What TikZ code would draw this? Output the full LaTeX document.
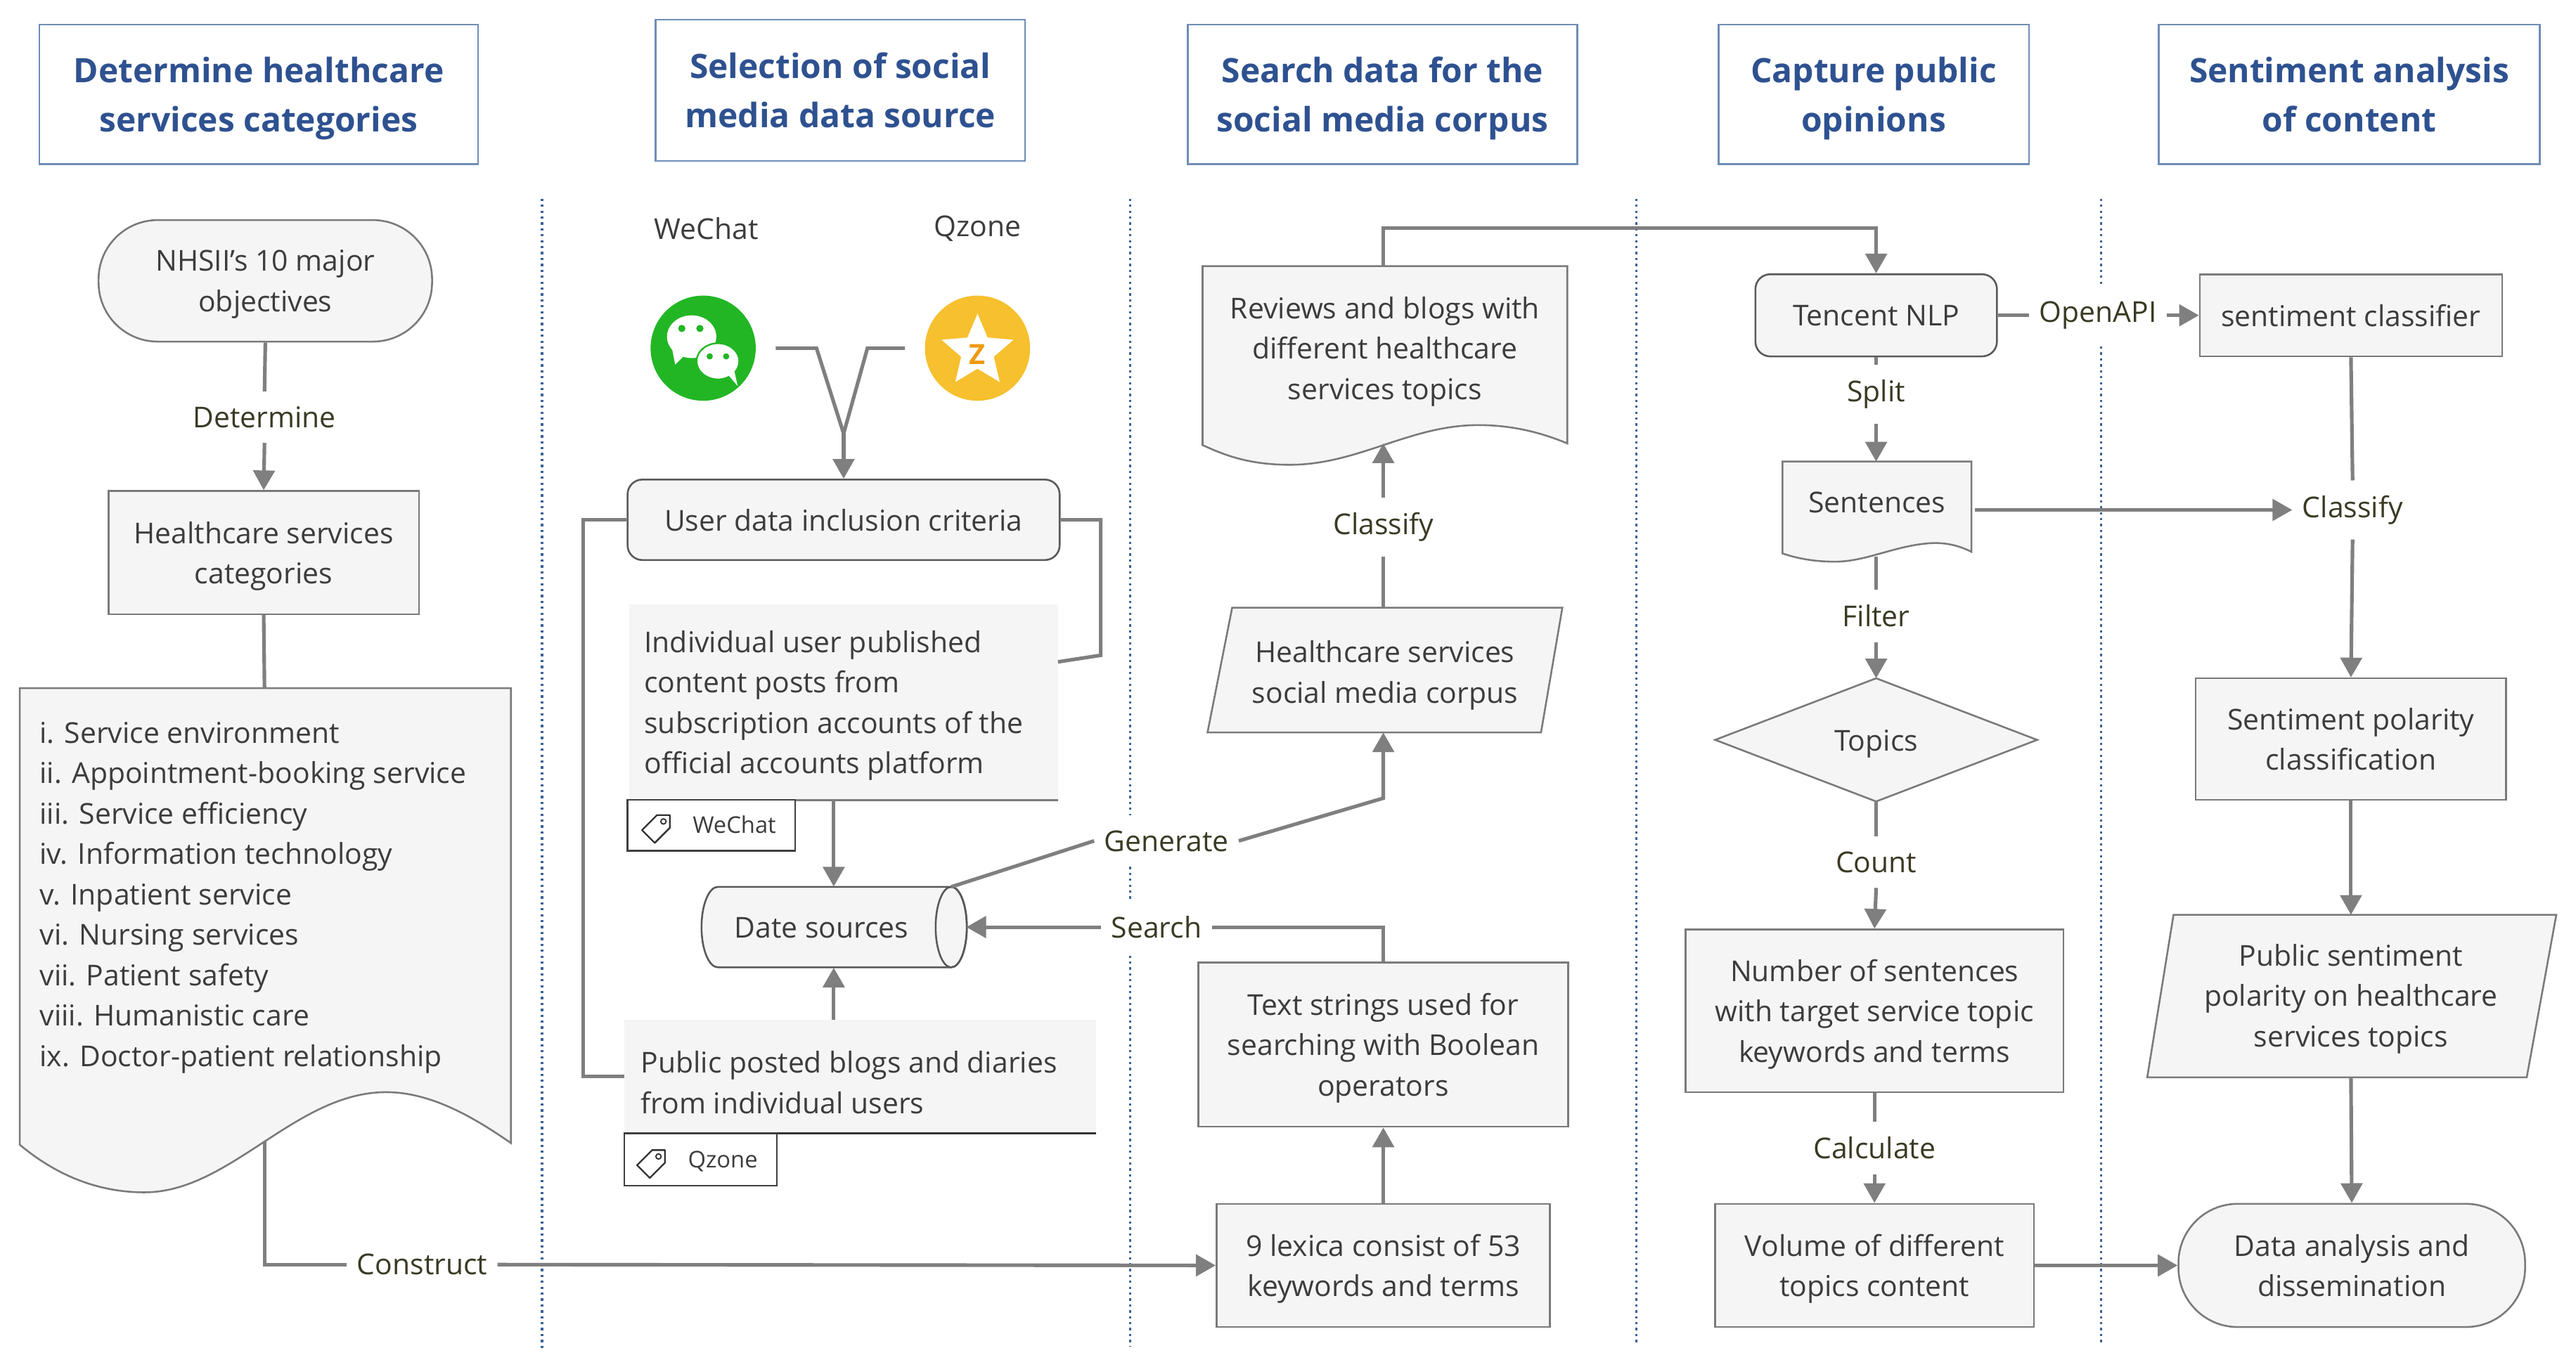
\documentclass[tikz,border=0pt]{standalone}
\usepackage{fontspec}
\setmainfont{Open Sans}
\usetikzlibrary{arrows.meta,shapes.geometric}
\definecolor{lc}{HTML}{7F7F7F}
\definecolor{bd}{HTML}{7A7A7A}
\definecolor{fl}{HTML}{F5F5F5}
\definecolor{tx}{HTML}{3C3C3C}
\definecolor{lb}{HTML}{3A3A24}
\definecolor{tb}{HTML}{2E5190}
\definecolor{tbd}{HTML}{6F8DB6}
\definecolor{dotc}{HTML}{3E6296}
\definecolor{wg}{HTML}{22B624}
\definecolor{qy}{HTML}{F6C02E}
\definecolor{qo}{HTML}{EE9A12}
\begin{document}
\begin{tikzpicture}[x=1pt,y=-1pt,
  every node/.style={text=tx},
  font=\fontsize{17.5}{24.6}\selectfont,
  ln/.style={draw=lc,line width=2.2pt},
  ar/.style={draw=lc,line width=2.2pt,-{Triangle[width=13pt,length=12pt]}},
  bx/.style={draw=bd,line width=1.1pt,fill=fl,align=center,inner sep=0pt,text depth=0pt},
  shp/.style={draw=bd,line width=1.1pt,fill=fl},
  ttl/.style={draw=tbd,line width=1.1pt,fill=white,text=tb,align=center,inner sep=0pt,text depth=0pt,font=\fontsize{20.5}{30}\selectfont\bfseries},
  lab/.style={fill=white,text=lb,inner xsep=6pt,inner ysep=9pt},
  txt/.style={align=center,inner sep=0pt,text depth=0pt},
  dl/.style={draw=dotc,line width=1.4pt,dash pattern=on 1.4pt off 2.2pt},
  tagbox/.style={draw=black!75,line width=1pt,fill=white,inner sep=0pt},
  tagtxt/.style={inner sep=0pt,font=\fontsize{14}{14}\selectfont}
]
\fill[white] (0,0) rectangle (1568,832);
\useasboundingbox (0,0) rectangle (1568,832);

% ---------- titles
\node[ttl,minimum width=267pt,minimum height=85pt] (t1) at (157.5,57.5) {Determine healthcare\\services categories};
\node[ttl,minimum width=225pt,minimum height=86pt] (t2) at (511.5,55) {Selection of social\\media data source};
\node[ttl,minimum width=237pt,minimum height=85pt] (t3) at (841.5,57.5) {Search data for the\\social media corpus};
\node[ttl,minimum width=189pt,minimum height=85pt] (t4) at (1140.5,57.5) {Capture public\\opinions};
\node[ttl,minimum width=232pt,minimum height=85pt] (t5) at (1430,57.5) {Sentiment analysis\\of content};

% ---------- lane separators
\draw[dl] (330,121) -- (330,822);
\draw[dl] (688,121) -- (688,820);
\draw[dl] (996,121) -- (996,818);
\draw[dl] (1279,121) -- (1279,818);

% ---------- labels on connectors
\node[lab] (lDet) at (161,254) {Determine};
\node[lab] (lCon) at (257,770) {Construct};
\node[lab] (lGen) at (710,512) {Generate};
\node[lab] (lSea) at (704,564.5) {Search};
\node[lab] (lCl1) at (842,321) {Classify};
\node[lab] (lSpl) at (1142,240) {Split};
\node[lab] (lFil) at (1142,375) {Filter};
\node[lab] (lCnt) at (1142,525) {Count};
\node[lab] (lCal) at (1141,699) {Calculate};
\node[lab] (lOA) at (1277,192) {OpenAPI};
\node[lab] (lCl2) at (1432,310.5) {Classify};

% ---------- column 1
\node[bx,rounded corners=36pt,minimum width=203pt,minimum height=74pt] (nhs) at (161.5,171) {NHSII's 10 major\\objectives};
\node[bx,minimum width=189pt,minimum height=75pt] (hsc) at (160.5,336.5) {Healthcare services\\categories};
\coordinate (catsT) at (161,419);
\coordinate (catsB) at (161,688);
\draw[ln] (catsB) |- (lCon.west);
\path[shp] (12,419) -- (311,419) -- (311,696) .. controls (288,680) and (262,665) .. (235,665) .. controls (180,665) and (140,726) .. (88,726) .. controls (55,726) and (30,712) .. (12,697) -- cycle;
\node[anchor=west,align=left,inner sep=0pt] (cats) at (24,546.5) {i. Service environment\\ii. Appointment-booking service\\iii. Service efficiency\\iv. Information technology\\v. Inpatient service\\vi. Nursing services\\vii. Patient safety\\viii. Humanistic care\\ix. Doctor-patient relationship};
\draw[ln] (nhs.south) -- (lDet.north);
\draw[ar] (lDet.south) -- (hsc.north);
\draw[ln] (hsc.south) -- (catsT);

% ---------- column 2
\node (wcl) at (430,139) {WeChat};
\node (qzl) at (595,139) {Qzone};
\node[circle,fill=wg,minimum size=64pt,inner sep=0pt] (wc) at (428,212) {};
\fill[white] (421,205) ellipse[x radius=15, y radius=13];
\fill[white] (409,212) -- (411,222) -- (418,215) -- cycle;
\fill[wg] (415,200) circle (2.2) (426,200) circle (2.2);
\draw[wg,line width=1pt,fill=white] (437,220) ellipse[x radius=13, y radius=11];
\fill[white] (443,228) -- (449,235) -- (447,226) -- cycle;
\fill[wg] (432,217) circle (1.9) (442,217) circle (1.9);
\node[circle,fill=qy,minimum size=64pt,inner sep=0pt] (qz) at (595,212) {};
\node[star,star points=5,star point ratio=2.2,fill=white,minimum size=46pt,inner sep=0pt] (qzs) at (595,214) {};
\node[text=qo,font=\fontsize{17}{17}\selectfont\bfseries,inner sep=0pt] (qzz) at (595,216) {Z};

\node[bx,draw=black!65,rounded corners=9pt,minimum width=263pt,minimum height=49pt] (udc) at (513.5,316.5) {User data inclusion criteria};
\coordinate (vj) at (513.5,264);
\draw[ln] ([xshift=12pt]wc.east) -- (497,212) -- (vj);
\draw[ln] ([xshift=-12pt]qz.west) -- (528,212) -- (vj);
\draw[ar] (vj) -- (udc.north);

\node[fill=fl,minimum width=261pt,minimum height=119pt,inner sep=0pt] (wcc) at (513.5,427.5) {};
\node[anchor=west,align=left,inner sep=0pt] (wcct) at (392,429.5) {Individual user published\\content posts from\\subscription accounts of the\\official accounts platform};
\draw[bd,line width=1pt] (wcc.south west) -- (wcc.south east);
\node[tagbox,minimum width=102pt,minimum height=31pt] (wtag) at (433,502.5) {};
\begin{scope}[shift={(401,503)},rotate=45]
  \draw[black!80,line width=1pt,line join=round] (-9,-5.5) -- (4,-5.5) -- (9.5,0) -- (4,5.5) -- (-9,5.5) -- cycle;
  \draw[black!80,line width=0.8pt] (4,0) circle (1.6);
\end{scope}
\node[tagtxt] (wtagt) at (447,502) {WeChat};

% cylinder
\path[draw=black!65,line width=1.1pt,fill=fl] (437,540) -- (579,540) arc[start angle=-90,end angle=90,x radius=9.5,y radius=24.5] -- (437,589) arc[start angle=90,end angle=270,x radius=10,y radius=24.5] -- cycle;
\draw[black!65,line width=1.1pt] (579,564.5) ellipse[x radius=9.5,y radius=24.5];
\node[minimum width=161pt,minimum height=49pt,inner sep=0pt] (cyl) at (507.5,564.5) {};
\node[txt] (cylt) at (500,565) {Date sources};
\coordinate (cylTR) at (579,540);

\node[fill=fl,minimum width=287pt,minimum height=69pt,inner sep=0pt] (qzc) at (523.5,655.5) {};
\node[anchor=west,align=left,inner sep=0pt] (qzct) at (390,659) {Public posted blogs and diaries\\from individual users};
\draw[black!80,line width=1.2pt] (qzc.south west) -- (qzc.south east);
\node[tagbox,minimum width=93pt,minimum height=32pt] (qtag) at (426.5,706) {};
\begin{scope}[shift={(398,707)},rotate=45]
  \draw[black!80,line width=1pt,line join=round] (-9,-5.5) -- (4,-5.5) -- (9.5,0) -- (4,5.5) -- (-9,5.5) -- cycle;
  \draw[black!80,line width=0.8pt] (4,0) circle (1.6);
\end{scope}
\node[tagtxt] (qtagt) at (440,707) {Qzone};

\draw[ln] (udc.west) -- (355,316.5) |- (qzc.west);
\coordinate (wcR) at (644,403);
\draw[ln] (udc.east) -- (670,316.5) -- (670,399) -- (wcR);
\draw[ar] (wcc.south -| cyl.north) -- (cyl.north);
\draw[ar] (qzc.north -| cyl.south) -- (cyl.south);

% ---------- column 3
\path[shp] (732,162) -- (954,162) -- (954,270) .. controls (935,262) and (915,258) .. (894,259) .. controls (855,261) and (825,283) .. (785,283) .. controls (760,283) and (745,277) .. (732,271) -- cycle;
\node[txt] (rev) at (843,212) {Reviews and blogs with\\different healthcare\\services topics};
\coordinate (revT) at (842,162);
\coordinate (revB) at (842,270);
\path[shp] (750,370) -- (951,370) -- (938,446) -- (735,446) -- cycle;
\node[txt] (hsm) at (843,409) {Healthcare services\\social media corpus};
\coordinate (hsmT) at (842,370);
\coordinate (hsmB) at (842,446);
\node[bx,minimum width=225pt,minimum height=100pt] (tsb) at (842,636) {Text strings used for\\searching with Boolean\\operators};
\node[bx,minimum width=203pt,minimum height=75pt] (lex) at (842,770.5) {9 lexica consist of 53\\keywords and terms};

\draw[ln] (cylTR) -- (lGen.west);
\draw[ar] (lGen.east) -- (842,486) -- (hsmB);
\draw[ln] (tsb.north) |- (lSea.east);
\draw[ar] (lSea.west) -- (cyl.east);
\draw[ar] (lex.north) -- (tsb.south);
\draw[ar] (lCon.east) -- (lex.west);
\draw[ln] (hsmT) -- (lCl1.south);
\draw[ar] (lCl1.north) -- (revB);

% ---------- column 4
\node[bx,draw=black!65,rounded corners=9pt,minimum width=147pt,minimum height=50pt] (tnl) at (1142,192) {Tencent NLP};
\draw[ar] (revT) -- (842,139) -| (tnl.north);
\path[shp] (1085,281) -- (1200,281) -- (1200,336) .. controls (1190,331) and (1181,330) .. (1172,331) .. controls (1152,333) and (1135,342) .. (1117,342) .. controls (1104,342) and (1094,340) .. (1085,337) -- cycle;
\node[txt] (sen) at (1142.5,306) {Sentences};
\coordinate (senT) at (1142,281);
\coordinate (senB) at (1142,339);
\coordinate (senR) at (1202,310.5);
\path[shp] (1142,413) -- (1240,450.5) -- (1142,488) -- (1044,450.5) -- cycle;
\node[txt] (topics) at (1142,451) {Topics};
\coordinate (topT) at (1142,413);
\coordinate (topB) at (1142,488);
\node[bx,minimum width=230pt,minimum height=99pt] (num) at (1141,615.5) {Number of sentences\\with target service topic\\keywords and terms};
\node[bx,minimum width=194pt,minimum height=75pt] (vol) at (1141,770.5) {Volume of different\\topics content};

\draw[ln] (tnl.south) -- (lSpl.north);
\draw[ar] (lSpl.south) -- (senT);
\draw[ln] (senB) -- (lFil.north);
\draw[ar] (lFil.south) -- (topT);
\draw[ln] (topB) -- (lCnt.north);
\draw[ar] (lCnt.south) -- (num.north);
\draw[ln] (num.south) -- (lCal.north);
\draw[ar] (lCal.south) -- (vol.north);

% ---------- column 5
\node[bx,minimum width=184pt,minimum height=50pt] (scl) at (1431,192) {sentiment classifier};
\node[bx,minimum width=189pt,minimum height=74pt] (spc) at (1431,450) {Sentiment polarity\\classification};
\path[shp] (1323,557) -- (1556,557) -- (1538,656) -- (1307,656) -- cycle;
\node[txt] (psp) at (1431,606) {Public sentiment\\polarity on healthcare\\services topics};
\coordinate (pspT) at (1431,557);
\coordinate (pspB) at (1431,656);
\node[bx,rounded corners=36pt,minimum width=211pt,minimum height=75pt] (dan) at (1431.5,770.5) {Data analysis and\\dissemination};

\draw[ln] (tnl.east) -- (lOA.west);
\draw[ar] (lOA.east) -- (scl.west);
\draw[ar] (senR) -- (lCl2.west);
\draw[ln] (scl.south) -- (lCl2.north);
\draw[ar] (lCl2.south) -- (spc.north);
\draw[ar] (spc.south) -- (pspT);
\draw[ar] (pspB) -- (dan.north);
\draw[ar] (vol.east) -- (dan.west);
\end{tikzpicture}
\end{document}
